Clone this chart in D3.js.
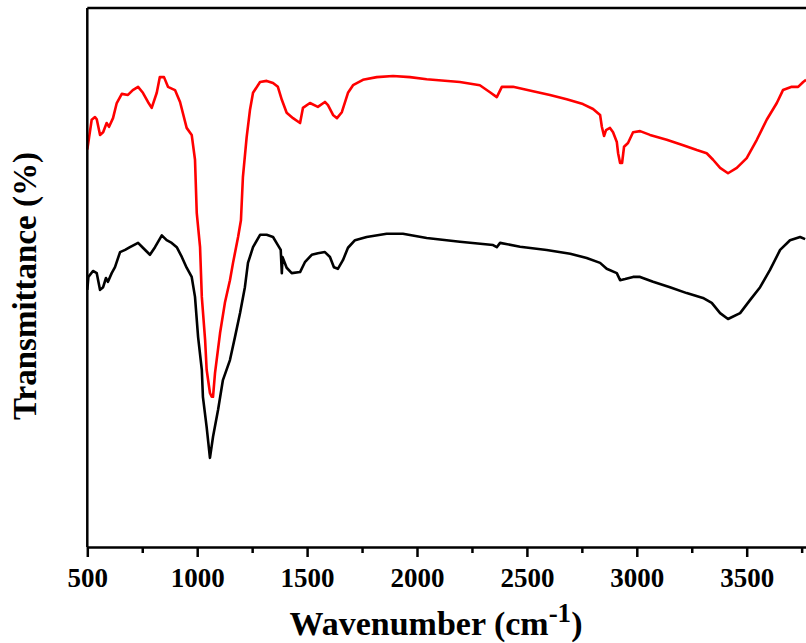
<!DOCTYPE html>
<html>
<head>
<meta charset="utf-8">
<script src="https://cdn.jsdelivr.net/npm/d3@7"></script>
<style>
  body { margin: 0; background: #fff; }
  svg { display: block; }
</style>
</head>
<body>
<div id="chart-area"></div>
<script>
// wavenumber (cm-1) and transmittance (%)
var redWave = [500, 520, 535, 543, 558, 572, 588, 599, 617, 634, 657, 685, 707, 731, 753, 776, 793, 816, 830, 849,
  867, 899, 922, 952, 975, 990, 998, 1013, 1021, 1036, 1043, 1058, 1066, 1072, 1081, 1104, 1126, 1149, 1163, 1186,
  1199, 1208, 1225, 1240, 1254, 1286, 1316, 1345, 1367, 1385, 1407, 1436, 1468, 1481, 1513, 1549, 1581, 1595, 1618, 1636,
  1658, 1686, 1709, 1754, 1817, 1891, 1968, 2044, 2195, 2286, 2332, 2363, 2386, 2437, 2528, 2605, 2681, 2755, 2801, 2833,
  2841, 2851, 2860, 2878, 2892, 2909, 2915, 2924, 2933, 2942, 2960, 2983, 3015, 3060, 3136, 3211, 3273, 3318, 3347, 3379,
  3415, 3455, 3500, 3546, 3591, 3637, 3665, 3705, 3734, 3757, 3770];
var redT = [73.8, 79.3, 79.8, 79.4, 76.5, 77.0, 78.7, 78.0, 79.6, 82.4, 84.1, 83.9, 84.8, 85.4, 84.3, 82.6, 81.5, 84.3, 87.2, 87.2,
  85.4, 84.8, 82.6, 77.8, 76.5, 71.9, 62.0, 55.7, 46.5, 38.5, 33.0, 28.7, 28.0, 28.0, 32.4, 39.8, 45.4, 49.6, 52.8, 57.6,
  60.7, 68.7, 76.1, 81.1, 84.3, 86.3, 86.5, 86.1, 85.4, 83.0, 80.6, 79.6, 78.7, 81.5, 82.4, 81.7, 82.6, 82.0, 80.2, 79.6,
  80.7, 84.3, 85.7, 86.7, 87.2, 87.4, 87.2, 86.8, 86.3, 85.7, 84.4, 83.5, 85.4, 85.4, 84.6, 83.9, 83.1, 82.2, 81.3, 80.2,
  78.0, 76.3, 77.4, 77.8, 77.0, 75.2, 73.1, 71.3, 71.3, 74.3, 75.0, 77.0, 77.2, 76.5, 75.6, 74.6, 73.7, 73.1, 71.9, 70.4,
  69.4, 70.4, 72.2, 75.6, 79.3, 82.4, 84.8, 85.4, 85.4, 86.3, 86.7];

var blackWave = [500, 505, 526, 543, 558, 572, 585, 594, 611, 626, 649, 672, 694, 731, 753, 785, 808, 839, 861, 884,
  907, 930, 952, 975, 990, 1004, 1021, 1026, 1043, 1058, 1072, 1095, 1117, 1149, 1172, 1195, 1217, 1231, 1254, 1286,
  1316, 1345, 1367, 1380, 1385, 1388, 1407, 1430, 1468, 1491, 1521, 1549, 1581, 1604, 1622, 1640, 1663, 1686, 1718, 1771,
  1862, 1936, 2044, 2195, 2346, 2363, 2378, 2469, 2590, 2697, 2772, 2833, 2863, 2909, 2924, 2947, 2983, 3015, 3074, 3151,
  3227, 3301, 3341, 3379, 3415, 3470, 3515, 3561, 3606, 3652, 3697, 3743, 3766];
var blackT = [47.8, 50.2, 51.3, 50.9, 47.8, 48.3, 50.0, 49.3, 50.9, 52.0, 54.8, 55.2, 55.7, 56.5, 55.6, 54.3, 55.7, 57.9, 57.0, 56.5,
  55.7, 53.9, 51.9, 50.2, 46.5, 39.1, 33.0, 28.0, 22.4, 16.7, 20.6, 25.6, 31.1, 34.8, 39.1, 43.5, 48.3, 52.8, 55.7, 58.0,
  58.0, 57.6, 56.1, 55.2, 50.9, 53.9, 51.9, 50.9, 51.1, 53.0, 54.3, 54.6, 54.8, 53.9, 52.0, 51.7, 53.3, 55.6, 57.0, 57.6,
  58.2, 58.2, 57.4, 56.7, 56.1, 55.7, 56.5, 55.8, 55.2, 54.5, 53.7, 52.8, 51.7, 50.9, 49.6, 49.8, 50.2, 50.2, 49.3, 48.3,
  47.2, 46.3, 45.4, 43.5, 42.4, 43.5, 45.9, 48.3, 51.5, 55.2, 57.0, 57.6, 57.2];

var majorTicks = [500, 1000, 1500, 2000, 2500, 3000, 3500];
var minorTicks = [750, 1250, 1750, 2250, 2750, 3250, 3750];

var W = 806, H = 643;
var plotLeft = 87.3, plotTop = 8, plotBottom = 547;
var font = "'Liberation Serif', 'Times New Roman', serif";

var svg = d3.select("#chart-area")
  .append("svg")
  .attr("width", W)
  .attr("height", H);

var x = d3.scaleLinear()
  .domain([500, 4000])
  .range([plotLeft, plotLeft + 7 * 109.9]);

var y = d3.scaleLinear()
  .domain([0, 100])
  .range([plotBottom + 1, plotTop]);

var line = d3.line()
  .x(d => x(d[0]))
  .y(d => y(d[1]));

var red = d3.zip(redWave, redT);
var black = d3.zip(blackWave, blackT);

svg.append("path")
  .datum(black)
  .attr("fill", "none")
  .attr("stroke", "#000")
  .attr("stroke-width", 2.6)
  .attr("stroke-linejoin", "round")
  .attr("d", line);

svg.append("path")
  .datum(red)
  .attr("fill", "none")
  .attr("stroke", "#ff0000")
  .attr("stroke-width", 2.6)
  .attr("stroke-linejoin", "round")
  .attr("d", line);

// frame: left and top
svg.append("line")
  .attr("x1", plotLeft).attr("x2", plotLeft)
  .attr("y1", plotTop).attr("y2", plotBottom)
  .attr("stroke", "#000").attr("stroke-width", 2.5);
svg.append("line")
  .attr("x1", plotLeft).attr("x2", W)
  .attr("y1", plotTop).attr("y2", plotTop)
  .attr("stroke", "#000").attr("stroke-width", 2.5);

// bottom axis
var xAxis = svg.append("g")
  .attr("transform", "translate(0," + plotBottom + ")")
  .call(d3.axisBottom(x).tickValues(majorTicks).tickSize(10).tickSizeOuter(0).tickFormat(d3.format("d")));

xAxis.select(".domain").attr("stroke-width", 2.5);
xAxis.selectAll(".tick line").attr("stroke-width", 2.5);
xAxis.selectAll("text")
  .attr("y", 40)
  .attr("dy", 0)
  .attr("font-family", font)
  .attr("font-weight", "bold")
  .attr("font-size", "27px")
  .attr("fill", "#000");

var minorAxis = svg.append("g")
  .attr("transform", "translate(0," + plotBottom + ")")
  .call(d3.axisBottom(x).tickValues(minorTicks).tickSize(6).tickFormat(""));
minorAxis.select(".domain").remove();
minorAxis.selectAll(".tick line").attr("stroke-width", 2.5);

// axis titles
var xTitle = svg.append("text")
  .attr("x", 436)
  .attr("y", 635)
  .attr("text-anchor", "middle")
  .attr("font-family", font)
  .attr("font-weight", "bold")
  .attr("font-size", "34px")
  .attr("fill", "#000");
xTitle.append("tspan").text("Wavenumber (cm");
xTitle.append("tspan").attr("dy", -13).attr("font-size", "27px").text("-1");
xTitle.append("tspan").attr("dy", 13).text(")");

svg.append("text")
  .attr("transform", "rotate(-90)")
  .attr("x", -286)
  .attr("y", 36)
  .attr("text-anchor", "middle")
  .attr("font-family", font)
  .attr("font-weight", "bold")
  .attr("font-size", "33px")
  .attr("fill", "#000")
  .text("Transmittance (%)");
</script>
</body>
</html>
